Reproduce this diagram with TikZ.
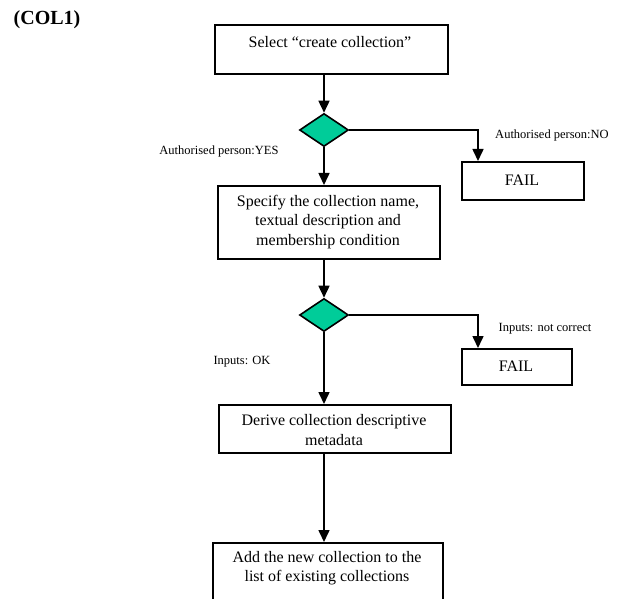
\documentclass[tikz,border=0pt]{standalone}
\usepackage{fontspec}
\setmainfont{Liberation Serif}
\usetikzlibrary{arrows.meta,shapes.geometric}
\definecolor{decision}{RGB}{0,204,153}
\tikzset{
  box/.style={draw, line width=1.6pt, rectangle, inner sep=0pt, anchor=north west},
  txt/.style={align=center, font=\fontsize{16}{19.5}\selectfont, inner sep=0pt},
  lbl/.style={font=\fontsize{12.5}{14}\selectfont, inner sep=0pt},
  test/.style={draw, line width=1.6pt, fill=decision, diamond, aspect=1.5,
    minimum width=49pt, minimum height=33pt, inner sep=0pt},
  flow/.style={line width=1.6pt, -{Triangle[length=12pt,width=11pt]}},
}
\begin{document}
\begin{tikzpicture}[x=1pt,y=-1pt]
\clip (0,0) rectangle (619,599);
\fill[white] (0,0) rectangle (619,599);

\node[font=\bfseries\fontsize{20}{22}\selectfont, inner sep=0pt] (title) at (47,20) {(COL1)};

% process boxes
\node[box, minimum width=233pt, minimum height=49pt] (b1) at (214,24) {};
\node[txt] (t1) at (330,42) {Select “create collection”};

\node[box, minimum width=222pt, minimum height=73pt] (b2) at (217,185) {};
\node[txt] (t2) at (328,222) {Specify the collection name,\\textual description and\\membership condition};

\node[box, minimum width=232pt, minimum height=48pt] (b3) at (218,404) {};
\node[txt] (t3) at (334,430) {Derive collection descriptive\\metadata};

\node[box, minimum width=230pt, minimum height=80pt] (b4) at (212,542) {};
\node[txt] (t4) at (327,568) {Add the new collection to the\\list of existing collections};

% failure boxes
\node[box, minimum width=122pt, minimum height=38pt] (f1) at (461,161) {};
\node[txt] (tf1) at (522,180) {FAIL};
\node[box, minimum width=110pt, minimum height=36pt] (f2) at (461,348) {};
\node[txt] (tf2) at (516,366) {FAIL};

% decisions
\node[test] (d1) at (324,130) {};
\node[test] (d2) at (324,315) {};

% connectors
\draw[flow] (b1.south -| d1) -- (d1.north);
\draw[flow] (d1.south) -- (b2.north -| d1);
\draw[flow] (b2.south -| d2) -- (d2.north);
\draw[flow] (d2.south) -- (b3.north -| d2);
\draw[flow] (b3.south -| d2) -- (b4.north -| d2);
\coordinate (k1) at (478,130);
\coordinate (k2) at (478,315);
\draw[flow] (d1.east) -- (k1) -- (k1 |- f1.north);
\draw[flow] (d2.east) -- (k2) -- (k2 |- f2.north);

% branch labels
\node[lbl] (l1) at (552,135) {Authorised person:NO};
\node[lbl] (l2) at (219,151) {Authorised person:YES};
\node[lbl] (l3) at (545,329) {Inputs: not correct};
\node[lbl] (l4) at (242,362) {Inputs: OK};
\end{tikzpicture}
\end{document}
